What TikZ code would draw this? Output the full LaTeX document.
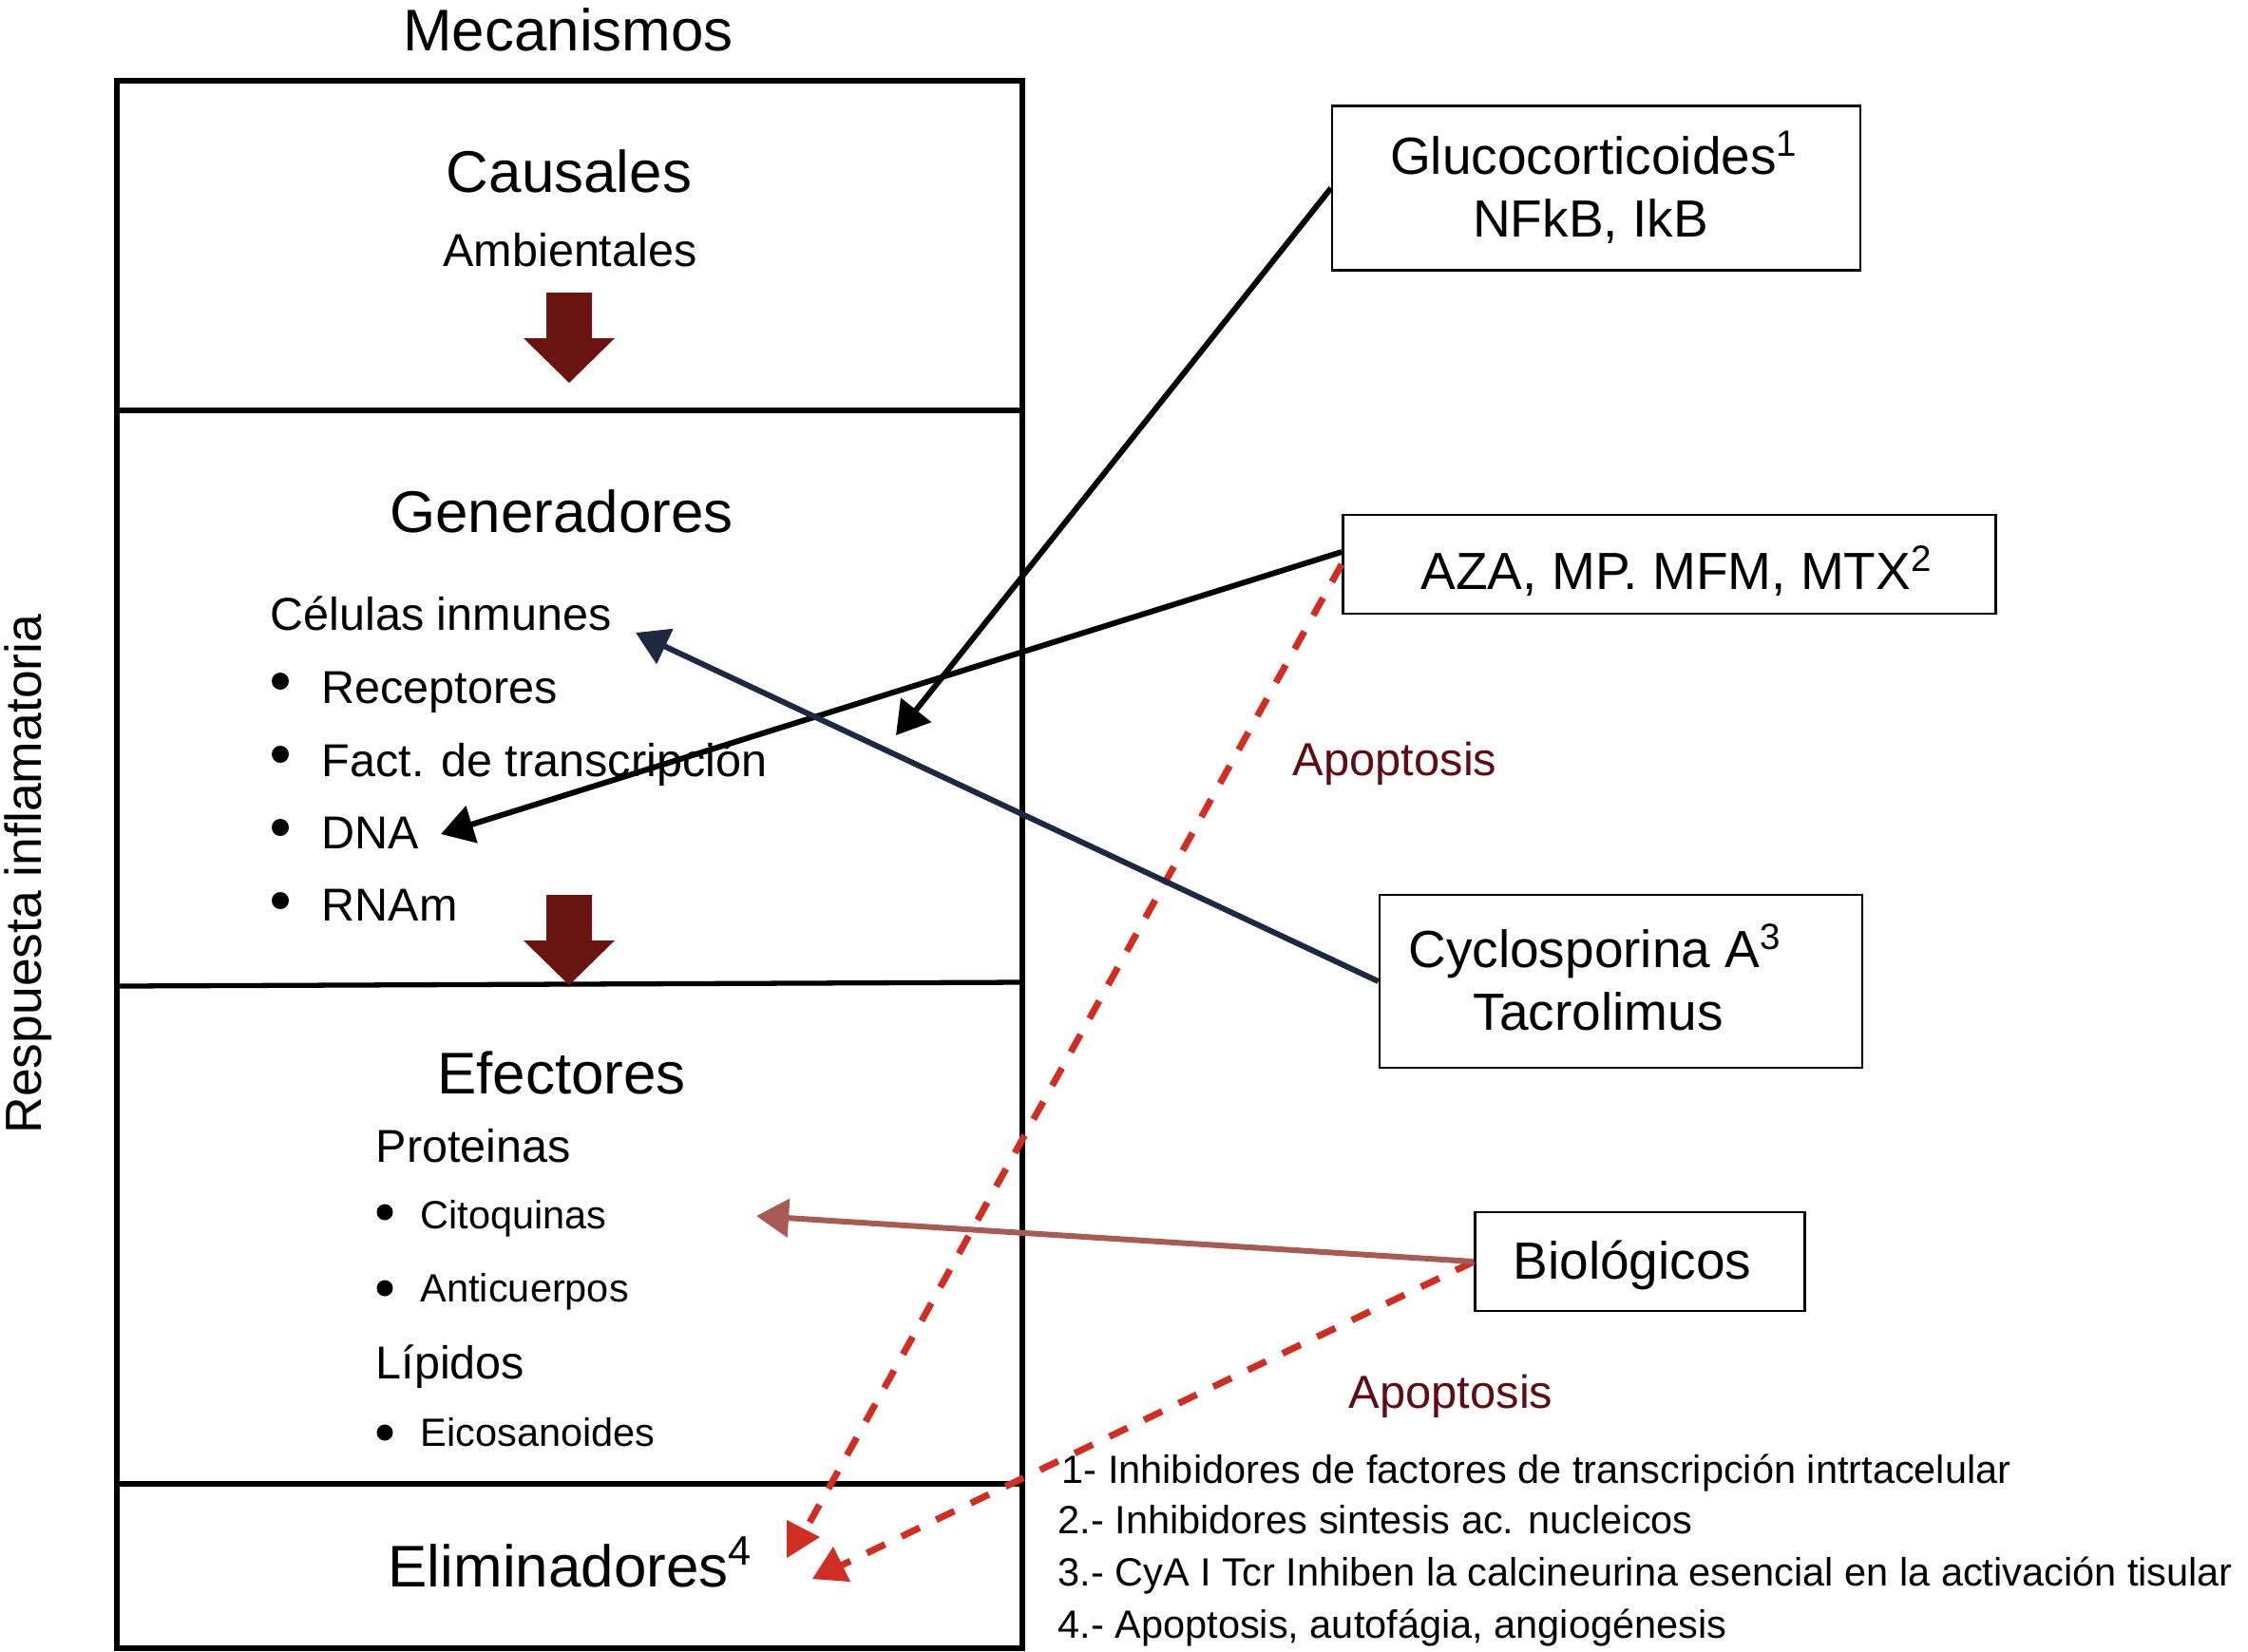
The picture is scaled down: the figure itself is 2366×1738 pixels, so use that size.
\documentclass[tikz,border=0pt]{standalone}
\usepackage{fontspec}
\setmainfont{Liberation Sans}
\usepackage{tikz}
\usetikzlibrary{arrows.meta,calc}

\definecolor{blockred}{RGB}{105,20,15}
\definecolor{apopred}{RGB}{95,12,18}
\definecolor{dashred}{RGB}{208,45,35}
\definecolor{navyline}{RGB}{30,40,65}
\definecolor{brownline}{RGB}{168,90,85}

\tikzset{
  heading/.style={anchor=base,inner sep=0pt,font=\fontsize{17.6pt}{21pt}\selectfont},
  subheading/.style={anchor=base,inner sep=0pt,font=\fontsize{13.8pt}{16pt}\selectfont},
  item/.style={anchor=base west,inner sep=0pt,font=\fontsize{13.8pt}{16pt}\selectfont},
  smallitem/.style={anchor=base west,inner sep=0pt,font=\fontsize{11.8pt}{14pt}\selectfont},
  drugbox/.style={draw,line width=0.7pt,inner sep=0pt},
  drugtext/.style={anchor=base,inner sep=0pt,font=\fontsize{15.65pt}{18pt}\selectfont},
  note/.style={anchor=base west,inner sep=0pt,font=\fontsize{11.8pt}{14pt}\selectfont},
  apop/.style={anchor=base west,inner sep=0pt,text=apopred,font=\fontsize{13.9pt}{16pt}\selectfont},
  action/.style={line width=1.7pt,-{Triangle[length=9.7pt,width=11.3pt]}},
  apopline/.style={draw=dashred,line width=2pt,dash pattern=on 6pt off 5.5pt},
  frame/.style={line width=1.5pt},
}

\begin{document}
\begin{tikzpicture}[x=0.01cm,y=-0.01cm]
      \useasboundingbox (0,0) rectangle (2366,1738);
      \node[heading] (mecanismos) at (598,53) {Mecanismos};
      \node[rotate=90,inner sep=0pt,font=\fontsize{15.2pt}{17pt}\selectfont] (respuesta) at (30,920) {Respuesta inflamatoria};
      \draw[frame] (123,85) rectangle (1076,1735);
      \draw[frame] (123,432) -- (1076,432);
      \draw[frame] (123,1038) -- (1076,1034);
      \draw[frame] (123,1562) -- (1076,1562);
      \foreach \t in {308,942}
        \fill[blockred] (575,\t) -- (623,\t) -- (623,\t+48) -- (647,\t+48) -- (599,\t+95) -- (551,\t+48) -- (575,\t+48) -- cycle;

      \node[heading] (causales) at (599,202) {Causales};
      \node[subheading] (ambientales) at (600,280) {Ambientales};

      \node[heading] (generadores) at (591,560) {Generadores};
      \node[item] (celulas) at (284,663) {Células inmunes};
      \node[item] (receptores) at (338,740) {Receptores};
      \node[item] (factores) at (338,817) {Fact. de transcripción};
      \node[item] (dna) at (338,893) {DNA};
      \node[item] (rnam) at (338,969) {RNAm};
      \foreach \y in {717,794,871,948}
        \fill (295,\y) circle[radius=9];

      \node[heading] (efectores) at (591,1151) {Efectores};
      \node[item] (proteinas) at (395,1223) {Proteinas};
      \node[smallitem] (citoquinas) at (442,1293) {Citoquinas};
      \node[smallitem] (anticuerpos) at (442,1370) {Anticuerpos};
      \node[item] (lipidos) at (395,1451) {Lípidos};
      \node[smallitem] (eicosanoides) at (442,1522) {Eicosanoides};
      \foreach \y in {1276,1356,1508}
        \fill (405,\y) circle[radius=8.5];

      \node[heading,anchor=base west] (eliminadores) at (408,1670) {Eliminadores\textsuperscript{4}};

      \node[drugbox,minimum width=5.555cm,minimum height=1.726cm] (gluco) at (1680,198) {};
      \node[drugtext] (gluco1) at (1678,183) {Glucocorticoides\textsuperscript{1}};
      \node[drugtext] (gluco2) at (1674,249) {NFkB, IkB};
      \node[drugbox,minimum width=6.87cm,minimum height=1.036cm] (aza) at (1757,594) {};
      \node[drugtext] (azatext) at (1765,620) {AZA, MP. MFM, MTX\textsuperscript{2}};
      \node[drugbox,minimum width=5.08cm,minimum height=1.816cm] (cyclo) at (1706,1033) {};
      \node[drugtext] (cyclo1) at (1679,1018) {Cyclosporina A\textsuperscript{3}};
      \node[drugtext] (cyclo2) at (1682,1084) {Tacrolimus};
      \node[drugbox,minimum width=3.47cm,minimum height=1.04cm] (bio) at (1726,1328) {};
      \node[drugtext] (biotext) at (1718,1346) {Biológicos};

      \node[apop] (apop1) at (1360,816) {Apoptosis};
      \node[apop] (apop2) at (1419,1482) {Apoptosis};

      \node[note] (note1) at (1117,1561) {1- Inhibidores de factores de transcripción intrtacelular};
      \node[note] (note2) at (1113,1614) {2.- Inhibidores sintesis ac. nucleicos};
      \node[note] (note3) at (1113,1669) {3.- CyA I Tcr Inhiben la calcineurina esencial en la activación tisular};
      \node[note] (note4) at (1113,1724) {4.- Apoptosis, autofágia, angiogénesis};

      \coordinate (glucotip) at (943,774);
      \coordinate (dnatip) at (464,878);
      \coordinate (celtip) at (669,666);
      \coordinate (citotip) at (796,1280);
      \coordinate (elim1) at (848,1610);
      \coordinate (elim2) at (885,1648);

      \draw[apopline] (aza.west) -- (elim1);
      \draw[apopline] (bio.west) -- (elim2);
      \fill[dashred] (828,1600) -- (863,1618) -- (828,1640) -- cycle;
      \fill[dashred] (877,1628) -- (895,1665) -- (855,1662) -- cycle;

      \draw[action] (gluco.west) -- (glucotip);
      \draw[action] ($(aza.west)+(0,-13)$) -- (dnatip);
      \draw[action,navyline] (cyclo.west) -- (celtip);
      \draw[action,brownline] (bio.west) -- (citotip);
    \end{tikzpicture}
\end{document}
